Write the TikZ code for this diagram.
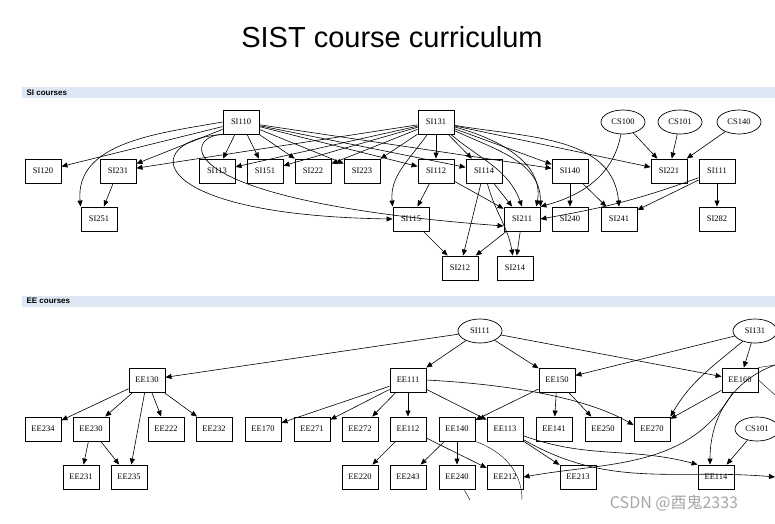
\documentclass[tikz,border=0pt]{standalone}
\usepackage{fontspec}
\setmainfont{Liberation Serif}
\newfontfamily\sansf{Liberation Sans}
\newfontfamily\cjk{Noto Sans CJK SC}
\usetikzlibrary{arrows.meta,shapes.geometric}
\definecolor{hdc}{HTML}{DEE8F4}
\begin{document}
\begin{tikzpicture}[x=1pt,y=-1pt,
 bx/.style={draw,line width=0.9pt,minimum width=36pt,minimum height=24pt,inner sep=0pt,fill=white,font=\fontsize{8.5}{9}\selectfont},
 el/.style={draw,ellipse,line width=0.7pt,minimum width=44pt,minimum height=24pt,inner sep=0pt,font=\fontsize{8.5}{9}\selectfont},
 ar/.style={-{Triangle[length=6pt,width=5pt]},line width=0.6pt},
 hd/.style={fill=hdc,minimum width=753pt,minimum height=11pt,anchor=west,inner sep=0pt}]
\useasboundingbox (0,0) rectangle (775,523);
\clip (0,0) rectangle (775,523);
\node[font=\sansf\fontsize{29}{31}\selectfont] (title) at (392,37) {SIST course curriculum};
\node[hd] (h1) at (22,92.5) {};
\node[anchor=west,font=\sansf\bfseries\fontsize{8}{9}\selectfont] (h1t) at (23,92.5) {SI courses};
\node[hd] (h2) at (22,301) {};
\node[anchor=west,font=\sansf\bfseries\fontsize{8}{9}\selectfont] (h2t) at (23,301) {EE courses};
% SI nodes
\node[bx] (SI110) at (241,122) {SI110};
\node[bx] (SI131) at (436,122) {SI131};
\node[el] (CS100) at (623,122) {CS100};
\node[el] (CS101) at (680,122) {CS101};
\node[el] (CS140) at (739,122) {CS140};
\foreach \n/\x in {SI120/43,SI231/118,SI113/217,SI151/265,SI222/313,SI223/362,SI112/436,SI114/484,SI140/570,SI221/669,SI111/717}
  \node[bx] (\n) at (\x,171) {\n};
\foreach \n/\x in {SI251/99,SI115/411,SI211/522,SI240/570,SI241/619,SI282/717}
  \node[bx] (\n) at (\x,219) {\n};
\node[bx] (SI212) at (460,268) {SI212};
\node[bx] (SI214) at (515,268) {SI214};
% SI edges
\foreach \t in {SI120,SI231,SI113,SI151,SI222,SI223,SI112,SI114,SI140} \draw[ar] (SI110) -- (\t);
\draw[ar] (SI110.west) to[out=190,in=95] (SI251.north west);
\draw[ar] (SI110.south west) .. controls (140,140) and (140,215) .. (SI115.west);
\draw[ar] (SI110.south west) .. controls (185,135) and (160,200) .. ([yshift=-7pt]SI211.west);
\foreach \t in {SI231,SI113,SI151,SI222,SI223,SI112,SI114,SI140,SI221} \draw[ar] (SI131) -- (\t);
\draw[ar] (SI131) to[out=235,in=95] (SI115.north west);
\draw[ar] (SI131) to[out=-40,in=110] (SI211.north);
\draw[ar] (SI131) to[out=-25,in=90] (SI211.north east);
\draw[ar] (SI131) to[out=-15,in=80] ([xshift=-4pt]SI211.north east);
\draw[ar] (SI131) to[out=-10,in=95] (SI241.north);
\draw[ar] (SI231) -- (SI251);
\draw[ar] (SI112) -- (SI115);
\draw[ar] (SI112) -- (SI211);
\draw[ar] (SI114) -- (SI211);
\draw[ar] (SI114) -- (SI212);
\draw[ar] (SI114) to[out=-75,in=100] (SI214);
\draw[ar] (SI115) -- (SI212);
\draw[ar] (SI211) -- (SI212);
\draw[ar] (SI211) -- (SI214);
\draw[ar] (SI140) -- (SI240);
\draw[ar] (SI140) -- (SI241);
\draw[ar] (CS100) -- (SI221);
\draw[ar] (CS101) -- (SI221);
\draw[ar] (CS140) -- (SI221);
\draw[ar] (CS100) to[out=-100,in=15] (SI211.north east);
\draw[ar] (SI111) -- (SI282);
\draw[ar] (SI111) -- (SI241);
\draw[ar] (SI111) to[out=200,in=10] (SI211.east);
% EE nodes
\node[el] (ESI111) at (480,331) {SI111};
\node[el] (ESI131) at (755,331) {SI131};
\node[bx] (EE130) at (147,380) {EE130};
\node[bx] (EE111) at (408,380) {EE111};
\node[bx] (EE150) at (557,380) {EE150};
\node[bx] (EE160) at (740,380) {EE160};
\foreach \n/\x in {EE234/43,EE230/91,EE222/166,EE232/214,EE170/263,EE271/312,EE272/360,EE112/408,EE140/457,EE113/505,EE141/554,EE250/603,EE270/652}
  \node[bx] (\n) at (\x,429) {\n};
\node[el] (CS101b) at (757,429) {CS101};
\foreach \n/\x in {EE231/81,EE235/129,EE220/360,EE243/408,EE240/457,EE212/505,EE213/578,EE114/716}
  \node[bx] (\n) at (\x,477) {\n};
\coordinate (o1) at (470,500);
\coordinate (o2) at (522,500);
\coordinate (o3) at (775,477);
\coordinate (o4) at (775,395);
\coordinate (o5) at (775,365);
% EE edges
\draw[ar] (ESI111) -- (EE130);
\draw[ar] (ESI111) -- (EE111);
\draw[ar] (ESI111) -- (EE150);
\draw[ar] (ESI111) -- (EE160);
\foreach \t in {EE234,EE230,EE235,EE222,EE232} \draw[ar] (EE130) -- (\t);
\draw[ar] (EE230) -- (EE231);
\draw[ar] (EE230) -- (EE235);
\foreach \t in {EE170,EE271,EE272,EE112,EE113} \draw[ar] (EE111) -- (\t);
\draw[ar] (EE111.east) .. controls (520,385) and (590,400) .. ([yshift=4pt]EE270.west);
\draw[ar] (EE112) -- (EE220);
\draw[ar] (EE112) -- (EE212);
\draw[ar] (EE150) -- (EE140);
\draw[ar] (EE150) -- (EE141);
\draw[ar] (EE150) -- (EE250);
\draw[ar] (EE140) -- (EE243);
\draw[ar] (EE140) -- (EE240);
\draw (EE140.south east) to[out=-20,in=90] (o2);
\draw (EE240) -- (o1);
\draw[ar] (EE113) -- (EE213);
\draw[ar] (EE113) to[out=-20,in=165] (EE114.north west);
\draw[ar] (EE113) to[out=-30,in=175] (o3);
\draw[ar] (ESI131) -- (EE150);
\draw[ar] (ESI131) to[out=220,in=60] (EE270.north east);
\draw[ar] (ESI131) -- (EE160);
\draw[ar] (EE160) -- (EE270);
\draw[ar] (EE160) to[out=-120,in=10] (EE212.east);
\draw (EE160.east) -- (o4);
\draw (EE160.north east) -- (o5);
\draw[ar] (o5) to[out=200,in=90] ([xshift=-6pt]EE114.north);
\draw[ar] (CS101b) -- (EE114);
\node[text=gray!70,font=\cjk\fontsize{16}{17}\selectfont] (wm) at (674,503) {CSDN @酉鬼2333};
\end{tikzpicture}
\end{document}
